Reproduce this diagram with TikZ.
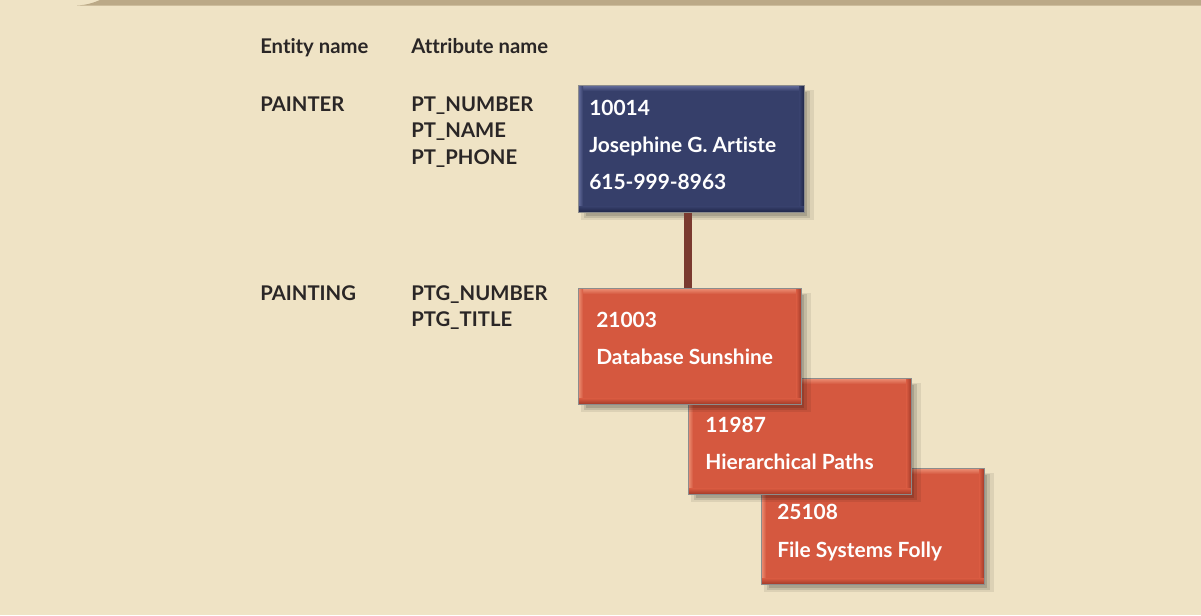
\documentclass[tikz,border=0pt]{standalone}
\usepackage{fontspec}
\setmainfont{Lato}[Ligatures=CommonOff]
\usetikzlibrary{calc,shadows}
\definecolor{bg}{HTML}{EFE3C5}
\definecolor{band}{HTML}{BBA987}
\definecolor{ink}{HTML}{2A2626}
\definecolor{bluemain}{HTML}{363F6A}
\definecolor{bluelight}{HTML}{6870A0}
\definecolor{bluedark}{HTML}{1E2445}
\definecolor{redmain}{HTML}{D5583F}
\definecolor{redlight}{HTML}{EE9378}
\definecolor{reddark}{HTML}{9E3826}
\definecolor{conn}{HTML}{7A3A2F}
\definecolor{edge}{HTML}{8C8C8C}
\newcommand\bevelon[4]{%
  \shade[top color=#3,bottom color=#2] (#1.north west) rectangle ($(#1.north east)+(0,6)$);
  \shade[left color=#3,right color=#2] (#1.north west) rectangle ($(#1.south west)+(5,0)$);
  \shade[left color=#2,right color=#4] ($(#1.north east)+(-5,0)$) rectangle (#1.south east);
  \shade[top color=#2,bottom color=#4] ($(#1.south west)+(0,-6)$) rectangle (#1.south east);
  \draw[edge,line width=0.5pt] (#1.north west) rectangle (#1.south east);
}
\begin{document}
\begin{tikzpicture}[x=0.75pt,y=-0.75pt,
  lbl/.style={text=ink,font=\fontsize{15.2}{18}\selectfont\bfseries,inner sep=0pt,anchor=base west},
  btxt/.style={text=white,font=\fontsize{15.7}{18}\selectfont\bfseries,inner sep=0pt,anchor=base west},
  recbox/.style={inner sep=0pt,anchor=north west,
    general shadow={shadow xshift=4.5pt,shadow yshift=-4.5pt,fill=black,opacity=0.08,shadow scale=1.03},
    general shadow={shadow xshift=4.5pt,shadow yshift=-4.5pt,fill=black,opacity=0.11},
    general shadow={shadow xshift=4pt,shadow yshift=-4pt,fill=black,opacity=0.13,shadow scale=0.98}},
  bluebox/.style={recbox,fill=bluemain,minimum width=169.5pt,minimum height=95.25pt},
  redbox/.style={recbox,fill=redmain,minimum width=167.25pt,minimum height=87pt},
  connector/.style={conn,line width=6pt}]
\useasboundingbox (0,0) rectangle (1201,615);
\fill[bg] (0,0) rectangle (1201,615);
\fill[band] (100,0) -- (1201,0) -- (1201,5.5) -- (77,5.5) .. controls (88,5) and (95,2) .. (100,0);

% left labels
\node[lbl] (hent) at (260,53) {Entity name};
\node[lbl] (hatt) at (411,53) {Attribute name};
\node[lbl] (epainter) at (260,111) {PAINTER};
\node[lbl] (a1) at (411,111) {PT\_NUMBER};
\node[lbl] (a2) at (411,137) {PT\_NAME};
\node[lbl] (a3) at (411,164) {PT\_PHONE};
\node[lbl] (epainting) at (260,300) {PAINTING};
\node[lbl] (a4) at (411,300) {PTG\_NUMBER};
\node[lbl] (a5) at (411,326) {PTG\_TITLE};

% painter box
\node[bluebox] (painter) at (578,85) {};
\bevelon{painter}{bluemain}{bluelight}{bluedark}
\node[btxt] (pt1) at (589,115) {10014};
\node[btxt] (pt2) at (589,152) {Josephine G. Artiste};
\node[btxt] (pt3) at (589,189) {615-999-8963};

% painting boxes (drawn back to front)
\node[redbox] (p3) at (761,468) {};
\bevelon{p3}{redmain}{redlight}{reddark}
\node[btxt] (p3a) at (777,519) {25108};
\node[btxt] (p3b) at (777,557) {File Systems Folly};

\node[redbox] (p2) at (688,378) {};
\bevelon{p2}{redmain}{redlight}{reddark}
\node[btxt] (p2a) at (705,432) {11987};
\node[btxt] (p2b) at (705,469) {Hierarchical Paths};

\node[redbox] (p1) at (578,288) {};
\bevelon{p1}{redmain}{redlight}{reddark}
\node[btxt] (p1a) at (596,327) {21003};
\node[btxt] (p1b) at (596,364) {Database Sunshine};

\draw[connector] ($(p1.north |- painter.south)+(-1.5,0)$) coordinate (cstart) -- ($(p1.north)+(-1.5,0)$) coordinate (cend);
\end{tikzpicture}
\end{document}
